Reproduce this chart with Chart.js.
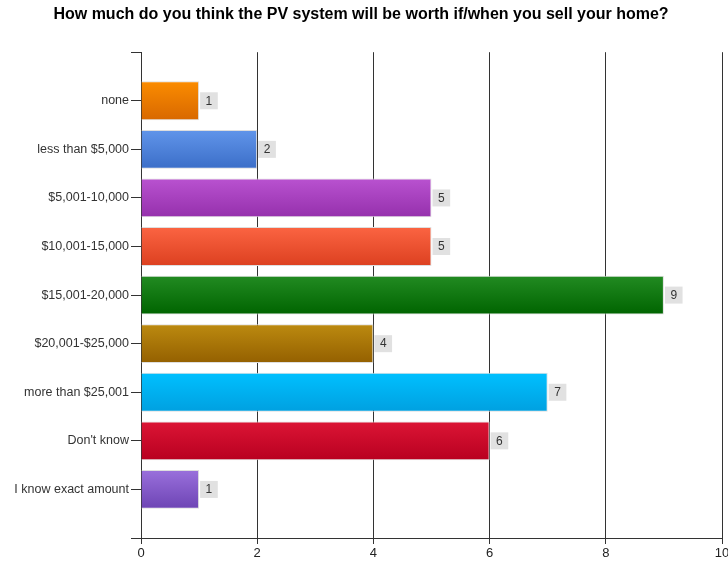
<!DOCTYPE html>
<html>
<head>
<meta charset="utf-8">
<script src="https://cdn.jsdelivr.net/npm/chart.js@4"></script>
<style>
  html, body { margin: 0; padding: 0; background: #fff; }
  #wrap { width: 728px; height: 561px; }
</style>
</head>
<body>
<div id="wrap"><canvas id="chart" width="728" height="561"></canvas></div>
<script>
const categories = ['none', 'less than $5,000', '$5,001-10,000', '$10,001-15,000', '$15,001-20,000',
    '$20,001-$25,000', 'more than $25,001', "Don't know", 'I know exact amount'];
const counts = [1, 2, 5, 5, 9, 4, 7, 6, 1];
const xTicks = [0, 2, 4, 6, 8, 10];

// gradient colours per bar, light at top, dark at bottom
const topColors = ['#fb8c00', '#6195ea', '#b952d0', '#fb6442', '#228b22', '#bc8a10', '#00c0ff', '#dc1535', '#9a70dc'];
const bottomColors = ['#d86800', '#3b6ec8', '#9530ac', '#dc4020', '#006400', '#946000', '#00a0e0', '#b80020', '#6d44b4'];

function barGradient(ctx) {
    const chart = ctx.chart;
    const y = chart.scales.y;
    if (!chart.chartArea || !y) return topColors[ctx.dataIndex];
    const c = y.getPixelForValue(ctx.dataIndex + 1);
    const half = (y.getPixelForValue(2) - y.getPixelForValue(1)) * 0.4;
    const g = chart.ctx.createLinearGradient(0, c - half, 0, c + half);
    g.addColorStop(0, topColors[ctx.dataIndex]);
    g.addColorStop(1, bottomColors[ctx.dataIndex]);
    return g;
}

const valueLabels = {
    id: 'valueLabels',
    afterDatasetsDraw(chart) {
        const ctx = chart.ctx;
        const meta = chart.getDatasetMeta(0);
        ctx.save();
        ctx.font = '12px "Liberation Sans", Arial, sans-serif';
        ctx.textAlign = 'center';
        ctx.textBaseline = 'middle';
        meta.data.forEach((bar, i) => {
            const text = String(counts[i]);
            const w = ctx.measureText(text).width + 11;
            const x = bar.x + 1;
            ctx.fillStyle = '#e1e1e1';
            ctx.fillRect(x, bar.y - 8.5, w, 17);
            ctx.fillStyle = '#333';
            ctx.fillText(text, x + w / 2, bar.y + 0.5);
        });
        ctx.restore();
    }
};

new Chart(document.getElementById('chart'), {
    type: 'bar',
    data: {
        datasets: [{
            data: counts.map((v, i) => ({ x: v, y: i + 1 })),
            backgroundColor: barGradient,
            borderColor: '#dedede',
            borderWidth: 1,
            barPercentage: 0.8,
            categoryPercentage: 1
        }]
    },
    options: {
        indexAxis: 'y',
        responsive: false,
        animation: false,
        layout: { padding: { top: 0, right: 6, bottom: 0, left: 0 } },
        plugins: {
            legend: { display: false },
            tooltip: { enabled: false },
            title: {
                display: true,
                text: 'How much do you think the PV system will be worth if/when you sell your home?',
                color: '#000',
                font: { family: '"Liberation Sans", Arial, sans-serif', size: 16, weight: 'bold' },
                padding: { top: 5, bottom: 28 }
            }
        },
        scales: {
            x: {
                type: 'linear',
                min: 0,
                max: 10,
                afterBuildTicks: s => { s.ticks = xTicks.map(v => ({ value: v })); },
                afterFit: s => { s.height = 23; s.paddingLeft = 0; s.paddingRight = 0; },
                ticks: {
                    color: '#222',
                    padding: 2,
                    font: { family: '"Liberation Sans", Arial, sans-serif', size: 13 }
                },
                grid: { color: '#333', lineWidth: 1, tickLength: 6, tickColor: '#333' },
                border: { color: '#333' }
            },
            y: {
                type: 'linear',
                reverse: true,
                offset: false,
                min: 0,
                max: 10,
                afterBuildTicks: s => { s.ticks = [0, 1, 2, 3, 4, 5, 6, 7, 8, 9, 10].map(v => ({ value: v })); },
                afterFit: s => { s.width = 141; s.paddingTop = 0; s.paddingBottom = 0; },
                ticks: {
                    color: '#333',
                    padding: 2,
                    font: { family: '"Liberation Sans", Arial, sans-serif', size: 12.5 },
                    callback: v => categories[v - 1] || ''
                },
                grid: { offset: false, drawOnChartArea: false, tickLength: 10, tickColor: '#333' },
                border: { color: '#333' }
            }
        }
    },
    plugins: [valueLabels]
});
</script>
</body>
</html>
